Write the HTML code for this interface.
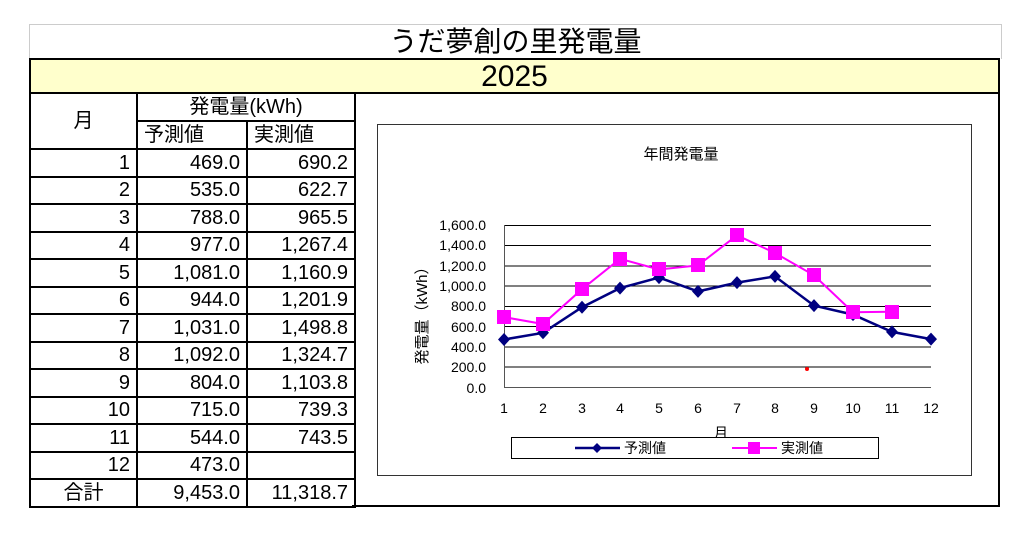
<!DOCTYPE html><html><head><meta charset="utf-8"><style>
body{margin:0;width:1024px;height:544px;background:#fff;font-family:"Liberation Sans","Noto Sans CJK JP",sans-serif;position:relative;overflow:hidden}
.a{position:absolute}
table{position:absolute;left:29px;top:92px;border-collapse:collapse;font-size:20px;table-layout:fixed;width:325px}
td{border:2px solid #000;padding:0 6px;text-align:right;line-height:22px;box-sizing:border-box}
tr{height:27.5px}
</style></head><body>
<div class="a" style="left:29px;top:24px;width:971px;height:34px;border-top:1px solid #ccc;border-left:1px solid #ccc;border-right:1px solid #ccc;font-size:28px;text-align:center;line-height:34px">うだ夢創の里発電量</div>
<div class="a" style="left:29px;top:58px;width:967px;height:32px;border:2px solid #000;background:#ffffcc;font-size:30px;text-align:center;line-height:33px">2025</div>
<div class="a" style="left:352px;top:92px;width:646px;height:411px;border:2px solid #000;border-left:none"></div>
<table>
<colgroup><col style="width:107px"><col style="width:110px"><col style="width:108px"></colgroup>
<tr style="height:28px"><td rowspan="2" style="text-align:center">月</td><td colspan="2" style="text-align:center">発電量(kWh)</td></tr>
<tr style="height:28px"><td style="text-align:left">予測値</td><td style="text-align:left">実測値</td></tr>
<tr><td>1</td><td>469.0</td><td>690.2</td></tr>
<tr><td>2</td><td>535.0</td><td>622.7</td></tr>
<tr><td>3</td><td>788.0</td><td>965.5</td></tr>
<tr><td>4</td><td>977.0</td><td>1,267.4</td></tr>
<tr><td>5</td><td>1,081.0</td><td>1,160.9</td></tr>
<tr><td>6</td><td>944.0</td><td>1,201.9</td></tr>
<tr><td>7</td><td>1,031.0</td><td>1,498.8</td></tr>
<tr><td>8</td><td>1,092.0</td><td>1,324.7</td></tr>
<tr><td>9</td><td>804.0</td><td>1,103.8</td></tr>
<tr><td>10</td><td>715.0</td><td>739.3</td></tr>
<tr><td>11</td><td>544.0</td><td>743.5</td></tr>
<tr><td>12</td><td>473.0</td><td></td></tr>
<tr><td style="text-align:center">合計</td><td>9,453.0</td><td>11,318.7</td></tr>
</table>
<svg class="a" style="left:0;top:0" width="1024" height="544" font-family="Liberation Sans,Noto Sans CJK JP,sans-serif">
<rect x="377.5" y="124.5" width="594" height="351" fill="#fff" stroke="#333"/>
<text x="681" y="159" font-size="15" text-anchor="middle">年間発電量</text>
<g stroke="#000" stroke-width="1">
<line x1="504" y1="225.5" x2="931" y2="225.5"/><line x1="504" y1="245.5" x2="931" y2="245.5"/><line x1="504" y1="266" x2="931" y2="266"/><line x1="504" y1="286" x2="931" y2="286"/><line x1="504" y1="306.5" x2="931" y2="306.5"/><line x1="504" y1="326.5" x2="931" y2="326.5"/><line x1="504" y1="347" x2="931" y2="347"/><line x1="504" y1="367" x2="931" y2="367"/>
<line x1="504" y1="387.5" x2="931" y2="387.5" stroke="#555"/><line x1="504.5" y1="225" x2="504.5" y2="388" stroke="#555"/>
</g>
<g font-size="14" text-anchor="end">
<text x="486" y="230">1,600.0</text><text x="486" y="250">1,400.0</text><text x="486" y="271">1,200.0</text><text x="486" y="291">1,000.0</text><text x="486" y="311">800.0</text><text x="486" y="332">600.0</text><text x="486" y="352">400.0</text><text x="486" y="372">200.0</text><text x="486" y="393">0.0</text>
</g>
<g font-size="14" text-anchor="middle">
<text x="504" y="413">1</text><text x="543" y="413">2</text><text x="582" y="413">3</text><text x="620" y="413">4</text><text x="659" y="413">5</text><text x="698" y="413">6</text><text x="737" y="413">7</text><text x="775" y="413">8</text><text x="814" y="413">9</text><text x="853" y="413">10</text><text x="892" y="413">11</text><text x="931" y="413">12</text>
<text x="721" y="438">月</text>
</g>
<text transform="translate(427,312) rotate(-90)" font-size="15" text-anchor="middle">発電量（kWh）</text>
<circle cx="807" cy="369" r="2" fill="red"/>
<polyline fill="none" stroke="#000080" stroke-width="2.5" points="504,339.5 543,332.8 582,307.2 620,288.1 659,277.6 698,291.4 737,282.6 775,276.4 814,305.6 853,314.6 892,331.9 931,339.1"/>
<g fill="#000080">
<path d="M504,333l6,6.5-6,6.5-6,-6.5z"/><path d="M543,326.3l6,6.5-6,6.5-6,-6.5z"/><path d="M582,300.7l6,6.5-6,6.5-6,-6.5z"/><path d="M620,281.6l6,6.5-6,6.5-6,-6.5z"/><path d="M659,271.1l6,6.5-6,6.5-6,-6.5z"/><path d="M698,284.9l6,6.5-6,6.5-6,-6.5z"/><path d="M737,276.1l6,6.5-6,6.5-6,-6.5z"/><path d="M775,269.9l6,6.5-6,6.5-6,-6.5z"/><path d="M814,299.1l6,6.5-6,6.5-6,-6.5z"/><path d="M853,308.1l6,6.5-6,6.5-6,-6.5z"/><path d="M892,325.4l6,6.5-6,6.5-6,-6.5z"/><path d="M931,332.6l6,6.5-6,6.5-6,-6.5z"/>
</g>
<polyline fill="none" stroke="#ff00ff" stroke-width="2" points="504,317.1 543,324 582,289.2 620,258.8 659,269.5 698,265.4 737,235.3 775,253 814,275.3 853,312.2 892,311.7"/>
<g fill="#ff00ff">
<rect x="497" y="310" width="14" height="14"/><rect x="536" y="317" width="14" height="14"/><rect x="575" y="282" width="14" height="14"/><rect x="613" y="252" width="14" height="14"/><rect x="652" y="262" width="14" height="14"/><rect x="691" y="258" width="14" height="14"/><rect x="730" y="228" width="14" height="14"/><rect x="768" y="246" width="14" height="14"/><rect x="807" y="268" width="14" height="14"/><rect x="846" y="305" width="14" height="14"/><rect x="885" y="305" width="14" height="14"/>
</g>
<rect x="511.5" y="437.5" width="367" height="21" fill="#fff" stroke="#000"/>
<line x1="575" y1="448" x2="620" y2="448" stroke="#000080" stroke-width="2.5"/><path d="M597,443l5,5-5,5-5,-5z" fill="#000080"/>
<text x="624" y="453" font-size="14">予測値</text>
<line x1="732" y1="448" x2="777" y2="448" stroke="#ff00ff" stroke-width="2"/><rect x="748" y="442" width="12" height="12" fill="#ff00ff"/>
<text x="781" y="453" font-size="14">実測値</text>
</svg>
</body></html>
